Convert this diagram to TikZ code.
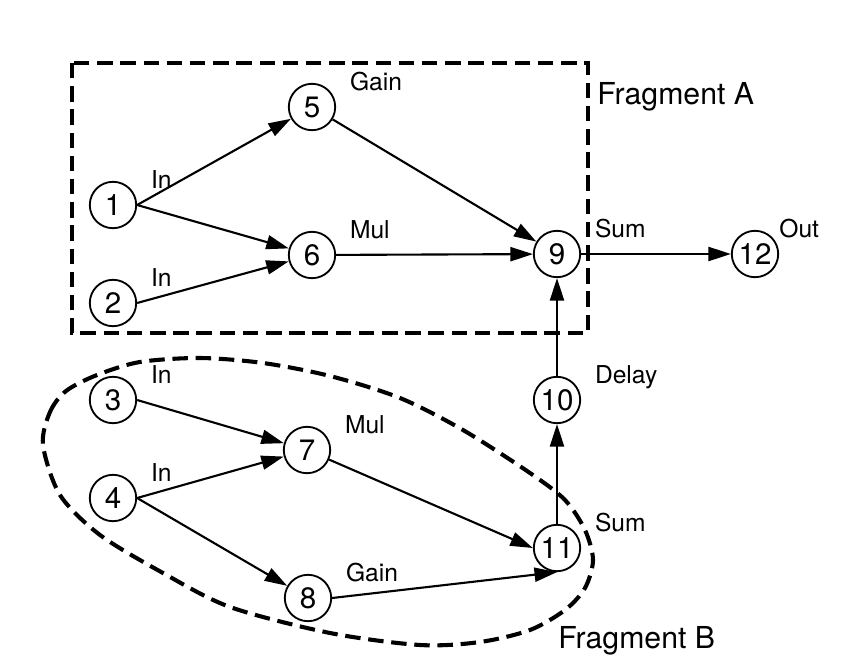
\documentclass[tikz,border=0pt]{standalone}
\usepackage{fontspec}
\setmainfont{TeX Gyre Heros}
\usetikzlibrary{arrows.meta}

\tikzset{
	blk/.style={circle, draw, line width=1.3pt, minimum size=33pt, inner sep=0pt, font=\fontsize{21}{21}\selectfont},
	tag/.style={anchor=base west, inner sep=0pt, xshift=9.7pt, yshift=12pt, font=\fontsize{17.5}{17.5}\selectfont},
	flow/.style={-{Triangle[length=16pt,width=10pt]}, line width=1.5pt},
	frag/.style={line width=2.9pt, dash pattern=on 11pt off 5.5pt},
	fname/.style={anchor=base west, inner sep=0pt, font=\fontsize{21.5}{21.5}\selectfont}
}

\begin{document}
\begin{tikzpicture}[x=0.025cm, y=-0.025cm]
		\useasboundingbox (0,0) rectangle (856,670);
		% fragment A
		\node[blk, label={[tag]0:In}] (n1) at (113,205) {1};
		\node[blk, label={[tag]0:In}] (n2) at (113,303) {2};
		\node[blk, label={[tag]0:Gain}] (n5) at (312,107) {5};
		\node[blk, label={[tag]0:Mul}] (n6) at (312,255) {6};
		\node[blk, label={[tag]0:Sum}] (n9) at (557,254) {9};
		\node[blk, label={[tag,xshift=-9.7pt]0:Out}] (n12) at (755,254) {12};
		% fragment B
		\node[blk, label={[tag]0:In}] (n3) at (113,400) {3};
		\node[blk, label={[tag]0:In}] (n4) at (113,498) {4};
		\node[blk, label={[tag]0:Mul}] (n7) at (307,450) {7};
		\node[blk, label={[tag]0:Gain}] (n8) at (308,598) {8};
		\node[blk, label={[tag]0:Sum}] (n11) at (557,548) {11};
		\node[blk, label={[tag]0:Delay}] (n10) at (557,400) {10};

		\path[flow]
		(n1.east) edge (n5)
		(n1.east) edge (n6)
		(n2.east) edge (n6)
		(n5) edge (n9)
		(n6) edge (n9)
		(n9) edge (n12)
		(n10) edge (n9)
		(n11) edge (n10)
		(n3.east) edge (n7)
		(n4.east) edge (n7)
		(n4.east) edge (n8)
		(n7) edge (n11.west)
		(n8.east) edge (n11.south)
		;

		\draw[frag] (72,63) rectangle (588,333);
		\draw[frag] plot[smooth cycle, tension=0.5] coordinates {
			(43,445) (50,412) (66,391) (97,375) (140,362) (200,358) (263,363)
			(330,376) (400,398) (463,430) (530,473) (565,500) (585,530) (593,560)
			(585,588) (565,610) (530,630) (480,642) (420,645) (330,633) (230,607)
			(163,573) (100,535) (60,495)};

		\node[fname] (fa) at (597,105) {Fragment A};
		\node[fname] (fb) at (558,648) {Fragment B};
	\end{tikzpicture}
\end{document}
